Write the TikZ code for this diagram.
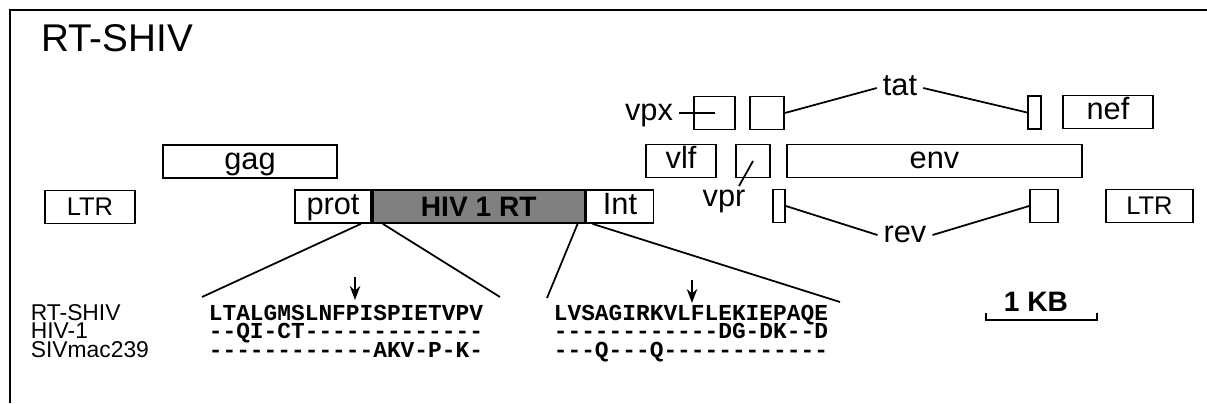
\documentclass[tikz,border=0pt]{standalone}
\usepackage{fontspec}
\setmainfont{Liberation Sans}
\newfontfamily\seqfont{Liberation Mono}
\usepackage{tikz}
\usetikzlibrary{arrows.meta,positioning}

\begin{document}
\begin{tikzpicture}[x=0.02cm,y=-0.02cm,line width=1pt,
  gene/.style={draw,line width=1pt,inner sep=0pt,minimum height=0.66cm},
  lc/.style={font=\fontsize{17.5}{20}\selectfont,text height=12.6pt,text depth=3.7pt},
  uc/.style={font=\fontsize{14.5}{16}\selectfont},
  lbl/.style={lc,inner sep=3pt},
  seqtxt/.style={anchor=base west,inner sep=0pt,font=\seqfont\bfseries\fontsize{13}{14}\selectfont},
  seqlbl/.style={anchor=base west,inner sep=0pt,font=\fontsize{13}{14}\selectfont}]
\useasboundingbox (0,0) rectangle (1207,403);
\coordinate (frTL) at (10,10);
\coordinate (frTR) at (1207,10);
\coordinate (frBL) at (10,403);
\draw[line width=1.2pt] (frTR)--(frTL)--(frBL);
\node[font=\fontsize{22}{24}\selectfont] (title) at (117,38) {RT-SHIV};

% genome map
\node[gene,uc,minimum width=1.8cm] (ltrL) at (90,207) {LTR};
\node[gene,lc,minimum width=3.48cm] (gag) at (250,161.5) {gag};
\node[gene,lc,minimum width=1.52cm] (prot) at (333,206.5) {prot};
\node[gene,minimum width=4.24cm,fill=black!50,right=0pt of prot,font=\bfseries\fontsize{16}{18}\selectfont] (rt) {HIV 1 RT};
\node[gene,lc,minimum width=1.34cm,right=0pt of rt] (int) {Int};
\node[gene,minimum width=0.82cm] (vpx) at (714.5,113) {};
\node[gene,minimum width=0.68cm] (tatA) at (767,113) {};
\node[gene,minimum width=0.26cm] (tatB) at (1034.5,112.5) {};
\node[gene,lc,minimum width=1.8cm] (nef) at (1108,112) {nef};
\node[gene,lc,minimum width=1.4cm] (vif) at (681,161) {vlf};
\node[gene,minimum width=0.68cm] (vpr) at (753,161) {};
\node[gene,lc,minimum width=5.9cm] (env) at (934.5,161) {env};
\node[gene,minimum width=0.24cm] (revA) at (779,206) {};
\node[gene,minimum width=0.56cm] (revB) at (1044,206) {};
\node[gene,uc,minimum width=1.74cm] (ltrR) at (1149.5,206) {LTR};

\node[lbl] (vpxlbl) at (649,113) {vpx};
\node[lbl] (tatlbl) at (900,88) {tat};
\node[lbl] (revlbl) at (905,235) {rev};
\node[lbl] (vprlbl) at (724,199) {vpr};
\coordinate (vprtip) at (739,186);

\draw (vpxlbl.east) -- (vpx.center);
\draw (tatA.east) -- (tatlbl.west);
\draw (tatlbl.east) -- (tatB.west);
\draw (revA.east) -- (revlbl.west);
\draw (revlbl.east) -- (revB.west);
\draw (vpr.center) -- (vprtip);

% sequences
\node[seqlbl] (lblRT) at (30,320) {RT-SHIV};
\node[seqlbl] (lblHIV) at (30,338.5) {HIV-1};
\node[seqlbl] (lblSIV) at (30,357) {SIVmac239};
\node[seqtxt] (seqA1) at (208,320) {LTALGMSLNFPISPIETVPV};
\node[seqtxt] (seqA2) at (208,338.5) {--QI-CT-------------};
\node[seqtxt] (seqA3) at (208,357) {------------AKV-P-K-};
\node[seqtxt] (seqB1) at (553,320) {LVSAGIRKVLFLEKIEPAQE};
\node[seqtxt] (seqB2) at (553,338.5) {------------DG-DK--D};
\node[seqtxt] (seqB3) at (553,357) {---Q---Q------------};

\coordinate (sAl) at (202,297);
\coordinate (sAr) at (500,297);
\coordinate (sBl) at (547,298);
\coordinate (sBr) at (840,302);
\draw ([xshift=-0.22cm]prot.south east) -- (sAl);
\draw ([xshift=0.22cm]rt.south west) -- (sAr);
\draw ([xshift=-0.16cm]rt.south east) -- (sBl);
\draw ([xshift=0.14cm]int.south west) -- (sBr);

\coordinate (arrAtop) at (355,277);
\coordinate (arrAtip) at (355,300);
\coordinate (arrBtop) at (692,280);
\coordinate (arrBtip) at (692,303);
\draw[-{Stealth[length=8pt,width=6pt]}] (arrAtop) -- (arrAtip);
\draw[-{Stealth[length=8pt,width=6pt]}] (arrBtop) -- (arrBtip);

% scale bar
\coordinate (kbL) at (986,313);
\coordinate (kbR) at (1097,313);
\draw (kbL) -- ++(0,7) -| (kbR);
\node[font=\bfseries\fontsize{16}{18}\selectfont] (kb) at (1036,302) {1 KB};
\end{tikzpicture}
\end{document}
